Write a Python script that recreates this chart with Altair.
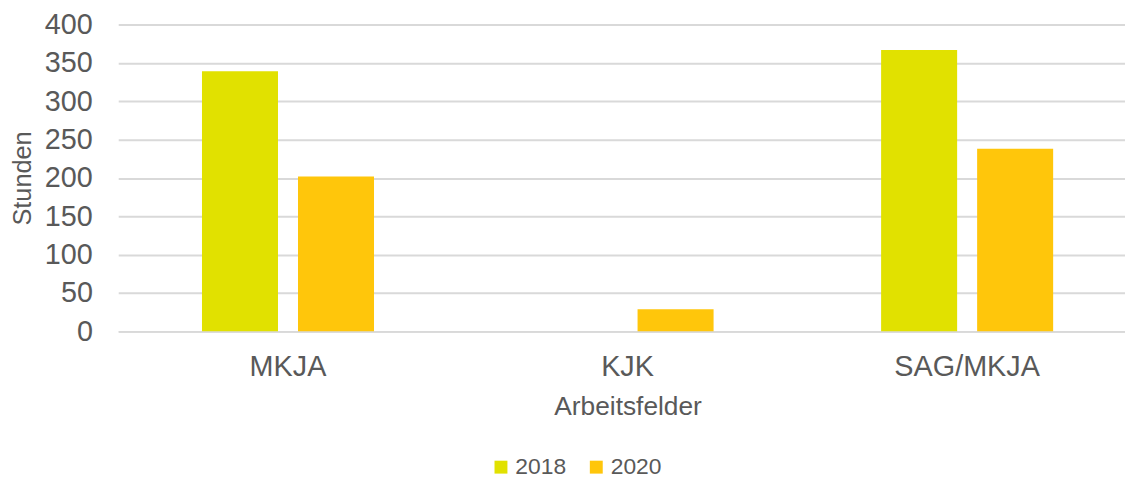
import altair as alt
import pandas as pd

categories = ["MKJA", "MKJA", "KJK", "KJK", "SAG/MKJA", "SAG/MKJA"]
years = ["2018", "2020", "2018", "2020", "2018", "2020"]
hours = [339, 202, 0, 29, 367, 238]

df = pd.DataFrame({"Arbeitsfeld": categories, "Jahr": years, "Stunden": hours})

FONT = "Liberation Sans"
GRAY = "#595959"

chart = alt.Chart(df).mark_bar().encode(
    x=alt.X("Arbeitsfeld:N", sort=["MKJA", "KJK", "SAG/MKJA"],
            scale=alt.Scale(paddingInner=0, paddingOuter=0, range=[0, 1026]),
            axis=alt.Axis(title="Arbeitsfelder", labelAngle=0, labelFontSize=29,
                          labelColor=GRAY, labelFont=FONT, titleFont=FONT,
                          titleFontSize=26.5, titleColor=GRAY, titleFontWeight="normal",
                          ticks=False, domainColor="#d9d9d9", domainWidth=2,
                          labelPadding=21, titlePadding=13, grid=False)),
    xOffset=alt.XOffset("Jahr:N", scale=alt.Scale(paddingInner=0.2083, paddingOuter=0.8724)),
    y=alt.Y("Stunden:Q", scale=alt.Scale(domain=[0, 400]),
            axis=alt.Axis(title="Stunden", values=[0, 50, 100, 150, 200, 250, 300, 350, 400],
                          labelFontSize=29, labelColor=GRAY, labelFont=FONT,
                          titleFont=FONT, titleFontSize=25.5, titleColor=GRAY,
                          titleFontWeight="normal", ticks=False, domain=False,
                          gridColor="#d9d9d9", gridWidth=2, labelPadding=26,
                          titlePadding=9)),
    color=alt.Color("Jahr:N", scale=alt.Scale(domain=["2018", "2020"], range=["#E1E100", "#FFC60B"]),
                    legend=alt.Legend(title=None, orient="none", legendX=374, legendY=434,
                                      direction="horizontal", symbolType="square",
                                      symbolSize=169, labelFontSize=23, labelFont=FONT,
                                      labelColor=GRAY, columnPadding=18, labelOffset=3)),
).properties(
    width=1014, height=309,
    autosize=alt.AutoSizeParams(type="none"),
    padding={"left": 111, "top": 15, "right": 0, "bottom": 148},
).configure_view(stroke=None)

chart.save("out.html", embed_options={"renderer": "svg", "actions": False})
